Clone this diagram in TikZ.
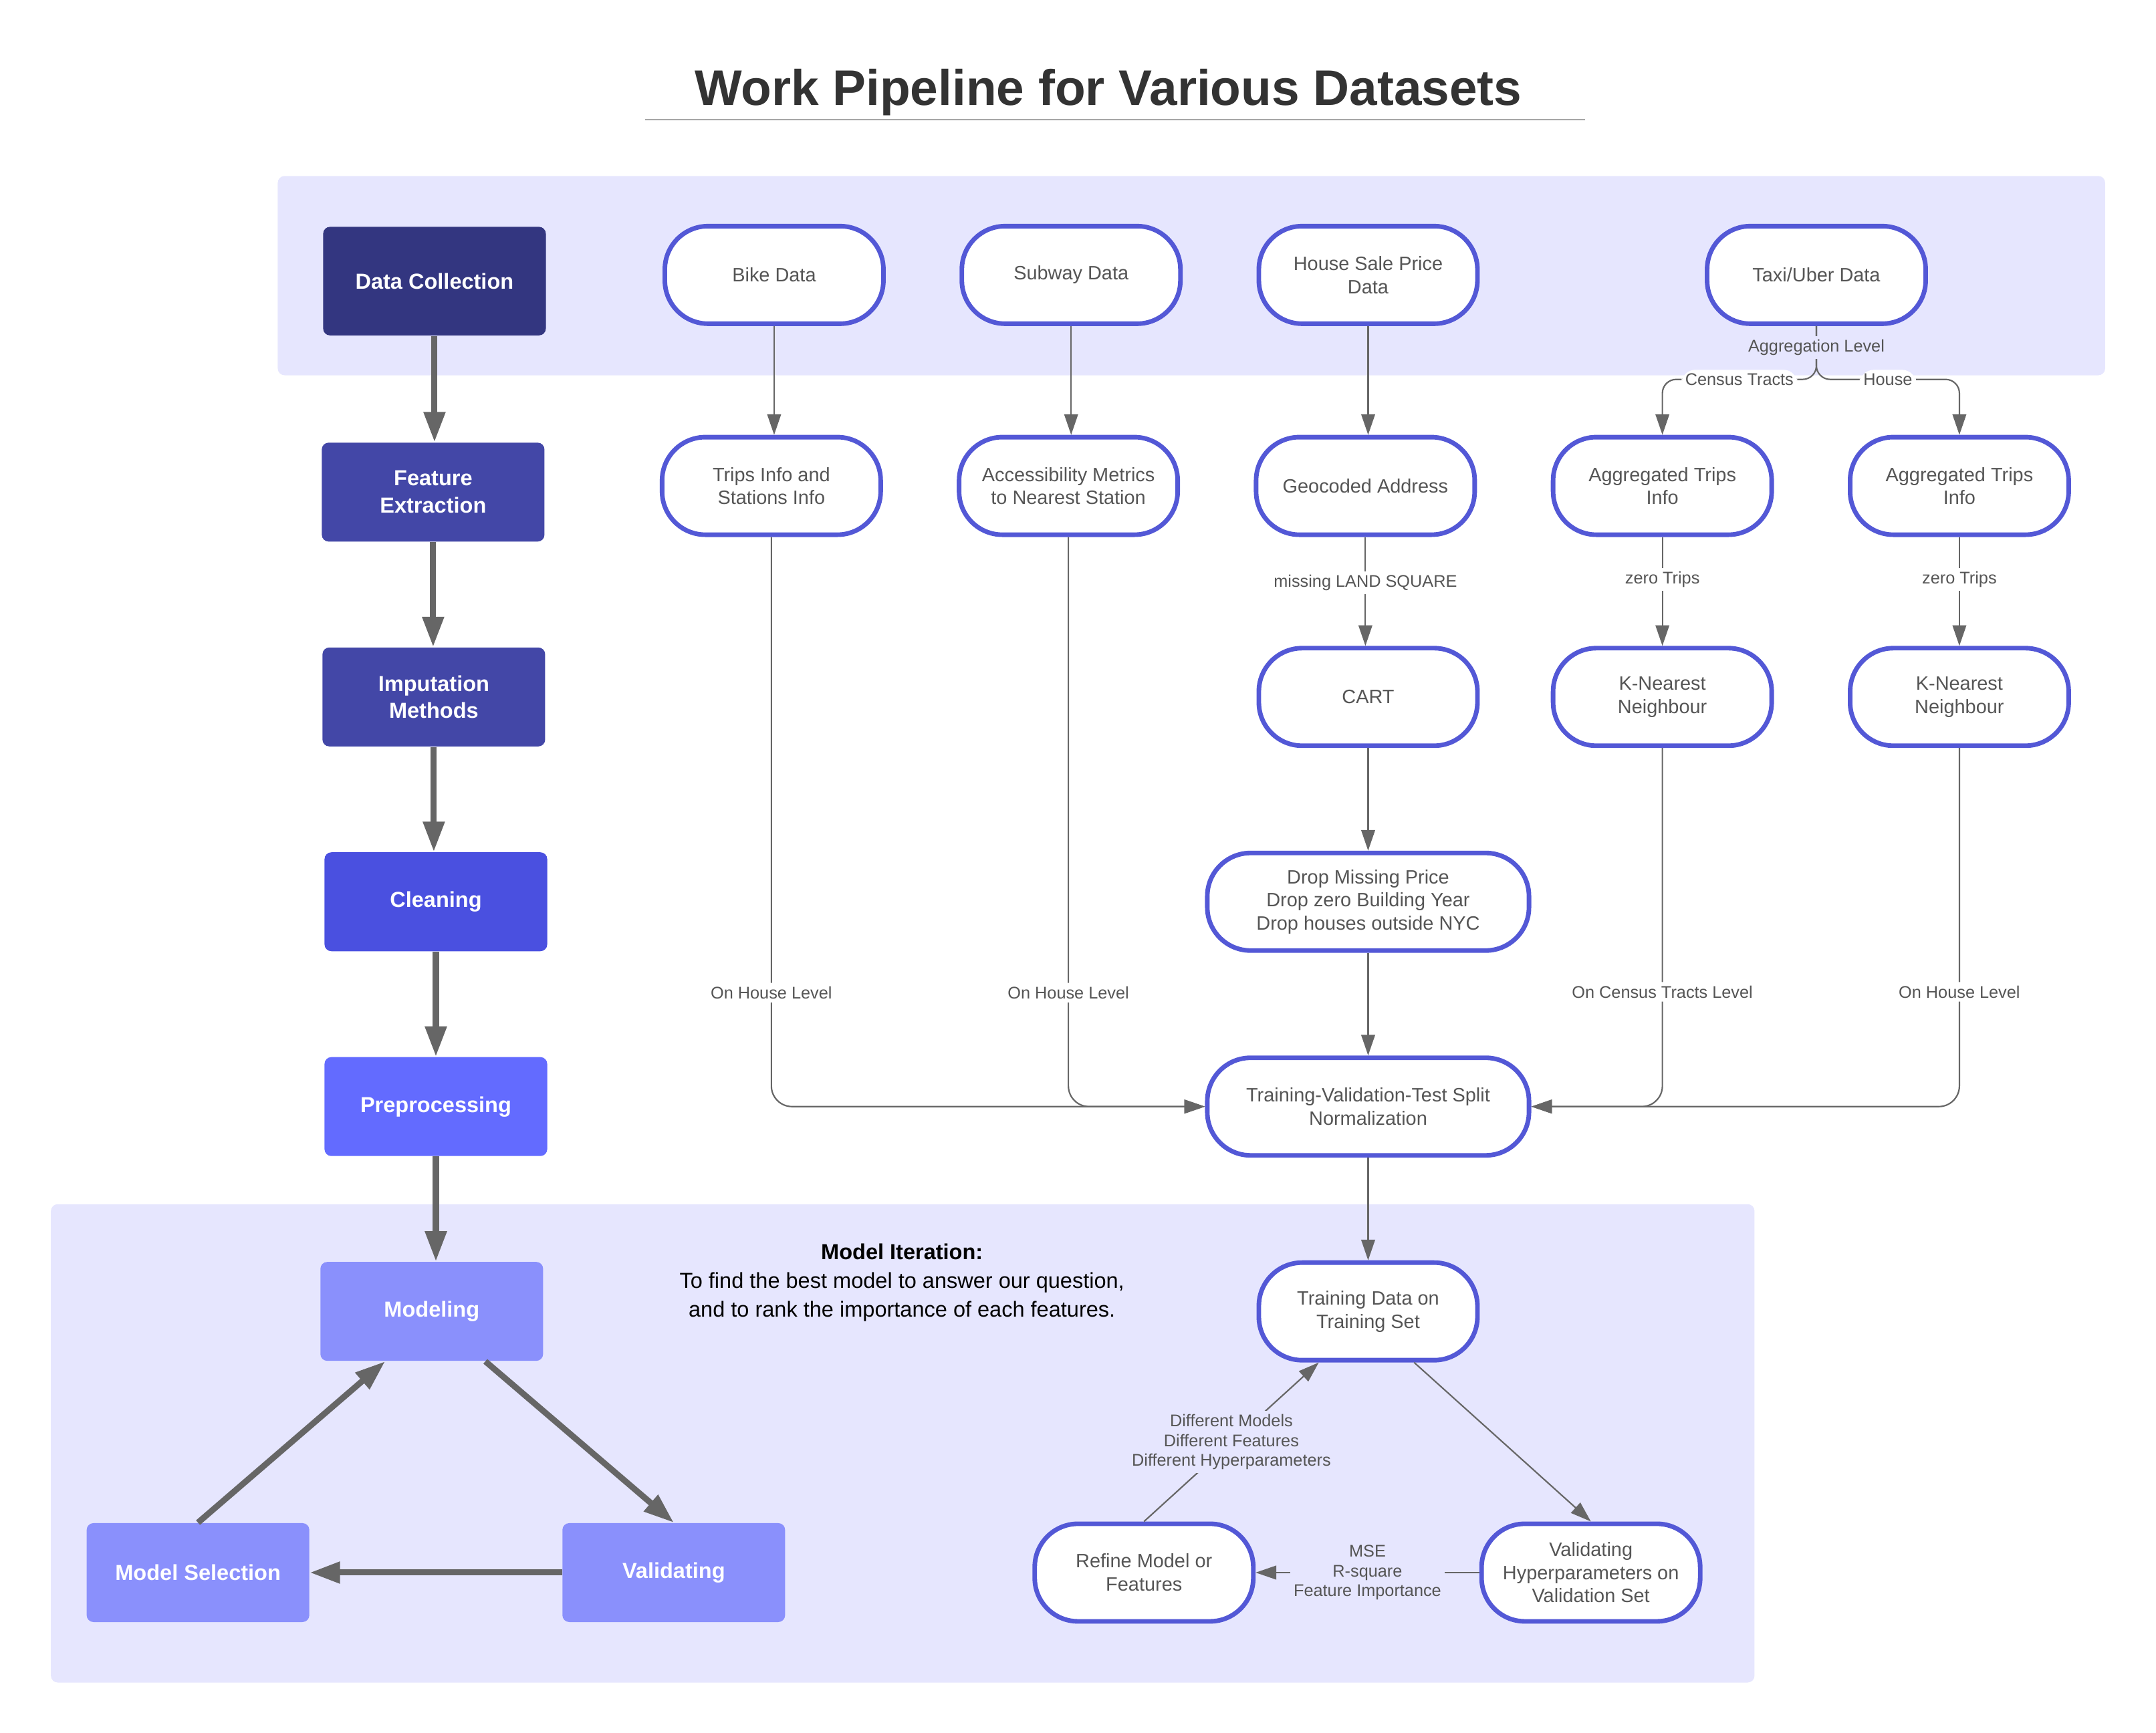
\documentclass[tikz,border=0pt]{standalone}
\usepackage{fontspec}
\setmainfont{Liberation Sans}
\usetikzlibrary{positioning, calc, arrows.meta}
\definecolor{bandcol}{HTML}{E6E6FE}
\definecolor{nodeblue}{HTML}{5358D6}
\definecolor{txtgray}{HTML}{555555}
\definecolor{linegray}{HTML}{666666}
\definecolor{titlegray}{HTML}{333333}
\definecolor{stage1}{HTML}{333680}
\definecolor{stage2}{HTML}{4347A7}
\definecolor{stage3}{HTML}{4A50E0}
\definecolor{stage4}{HTML}{636BFF}
\definecolor{stage5}{HTML}{8A90FC}
\tikzset{>={Triangle[length=0.3cm,width=0.2cm]}}
\tikzset{stage/.style={rounded corners=0.1cm, minimum width=3.24cm, minimum height=1.44cm,
    align=center, text=white, font=\fontsize{9}{11.3}\selectfont\bfseries}}
\tikzset{data node/.style={draw=nodeblue, line width=1.9pt, fill=white, rounded corners=0.63cm,
    minimum width=3.18cm, minimum height=1.42cm, align=center, text=txtgray,
    font=\fontsize{8}{9.6}\selectfont}}
\tikzset{wide node/.style={data node, minimum width=4.68cm}}
\tikzset{flow/.style={draw=linegray, line width=0.6pt, ->}}
\tikzset{stage flow/.style={draw=linegray, line width=2.5pt, -{Triangle[length=0.44cm,width=0.3cm]}}}
\tikzset{note/.style={fill=white, text=txtgray, font=\fontsize{7}{8.2}\selectfont, inner sep=1.5pt, align=center}}

\begin{document}
\begin{tikzpicture}[x=0.02cm, y=-0.02cm]
    \useasboundingbox (0,0) rectangle (1568,1260.7);

    % title and bands
    \node[font=\fontsize{20.7}{24}\selectfont\bfseries, text=titlegray] (title) at (806,67) {Work Pipeline for Various Datasets};
    \draw[gray!70, line width=0.6pt] (469,87) -- (1153,87);
    \fill[bandcol, rounded corners=0.1cm] (202,128) rectangle (1531,273);
    \fill[bandcol, rounded corners=0.1cm] (37,876) rectangle (1276,1224);

    % pipeline stages
    \node[stage, fill=stage1, minimum height=1.58cm] (collect) at (316,204.5) {Data Collection};
    \node[stage, fill=stage2] (extract) at (315,358) {Feature\\Extraction};
    \node[stage, fill=stage2] (impute) at (315.5,507) {Imputation\\Methods};
    \node[stage, fill=stage3] (clean) at (317,656) {Cleaning};
    \node[stage, fill=stage4] (prep) at (317,805) {Preprocessing};
    \node[stage, fill=stage5] (model) at (314,954) {Modeling};
    \node[stage, fill=stage5] (select) at (144,1144) {Model Selection};
    \node[stage, fill=stage5] (valid) at (490,1144) {Validating};

    \draw[stage flow] (collect.south) -- (collect.south |- extract.north);
    \draw[stage flow] (extract.south) -- (extract.south |- impute.north);
    \draw[stage flow] (impute.south) -- (impute.south |- clean.north);
    \draw[stage flow] (clean.south) -- (clean.south |- prep.north);
    \draw[stage flow] (prep.south) -- (prep.south |- model.north);
    \draw[stage flow] (model.-43) to (valid.north);
    \draw[stage flow] (valid.west) to (select.east);
    \draw[stage flow] (select.north) to (model.-133);

    % datasets
    \node[data node] (bike) at (563,200) {Bike Data};
    \node[data node] (subway) at (779,200) {Subway Data};
    \node[data node] (house) at (995,200) {House Sale Price\\Data};
    \node[data node] (taxi) at (1321,200) {Taxi/Uber Data};

    \node[data node] (trips) at (561,353.5) {Trips Info and\\Stations Info};
    \node[data node] (access) at (777,353.5) {Accessibility Metrics\\to Nearest Station};
    \node[data node] (geo) at (993,353.5) {Geocoded Address};
    \node[data node] (agg-c) at (1209,353.5) {Aggregated Trips\\Info};
    \node[data node] (agg-h) at (1425,353.5) {Aggregated Trips\\Info};

    \node[data node] (cart) at (995,507) {CART};
    \node[data node] (knn-c) at (1209,507) {K-Nearest\\Neighbour};
    \node[data node] (knn-h) at (1425,507) {K-Nearest\\Neighbour};

    \node[wide node] (drop) at (995,656) {Drop Missing Price\\Drop zero Building Year\\Drop houses outside NYC};
    \node[wide node] (split) at (995,805) {Training-Validation-Test Split\\Normalization};

    \draw[flow] (bike.south) -- (bike.south |- trips.north);
    \draw[flow] (subway.south) -- (subway.south |- access.north);
    \draw[flow] (house.south) -- (house.south |- geo.north);

    \coordinate (fork) at (1321,276);
    \draw[flow, rounded corners=0.2cm] (taxi.south) -- (fork) -| node[note, pos=0.25] {Census Tracts} (agg-c.north);
    \draw[flow, rounded corners=0.2cm] (taxi.south) -- (fork) -| node[note, pos=0.25] {House} (agg-h.north);
    \path (taxi.south) -- node[note, fill=bandcol, pos=0.4] {Aggregation Level} (fork);

    \draw[flow] (geo.south) -- node[note, pos=0.42] {missing LAND SQUARE} (geo.south |- cart.north);
    \draw[flow] (agg-c.south) -- node[note, pos=0.39] {zero Trips} (knn-c.north);
    \draw[flow] (agg-h.south) -- node[note, pos=0.39] {zero Trips} (knn-h.north);
    \draw[flow] (cart.south) -- (drop.north);
    \draw[flow] (drop.south) -- (split.north);

    \draw[flow, rounded corners=0.3cm] (trips.south) |- node[note, pos=0.4] {On House Level} (split.west);
    \draw[flow, rounded corners=0.3cm] (access.south) |- node[note, pos=0.4] {On House Level} (split.west);
    \draw[flow, rounded corners=0.3cm] (knn-c.south) |- node[note, pos=0.34] {On Census Tracts Level} (split.east);
    \draw[flow, rounded corners=0.3cm] (knn-h.south) |- node[note, pos=0.34] {On House Level} (split.east);

    % model iteration
    \node[align=center, font=\fontsize{9}{11.8}\selectfont] (iter) at (656,933) {\textbf{Model Iteration:}\\To find the best model to answer our question,\\and to rank the importance of each features.};

    \node[data node] (train) at (995,954) {Training Data on\\Training Set};
    \node[data node] (refine) at (832,1144) {Refine Model or\\Features};
    \node[data node] (valhyp) at (1157,1144) {Validating\\Hyperparameters on\\Validation Set};

    \draw[flow] (split.south) -- (train.north);
    \draw[flow] (train.-48) to (valhyp.north);
    \draw[flow] (valhyp.west) to node[note, fill=bandcol] {MSE\\R-square\\Feature Importance} (refine.east);
    \draw[flow] (refine.north) to node[note, fill=bandcol] {Different Models\\Different Features\\Different Hyperparameters} (train.-134);
\end{tikzpicture}
\end{document}
